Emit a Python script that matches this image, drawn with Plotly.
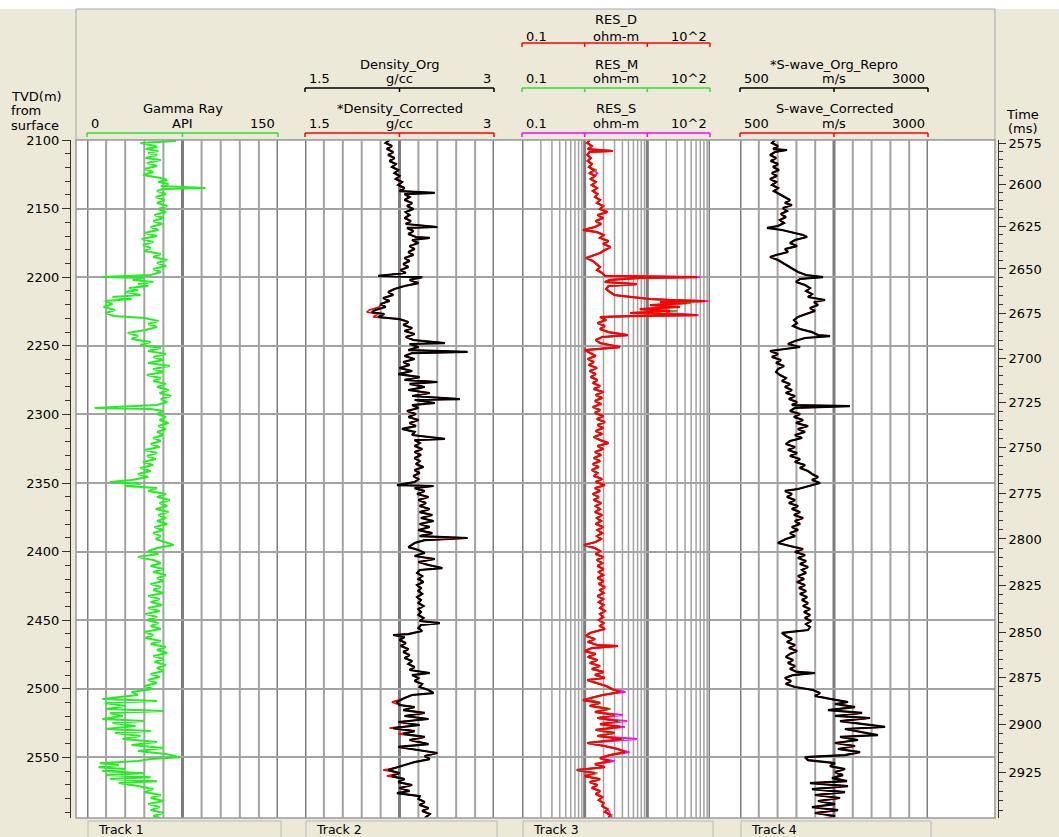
import numpy as np
import plotly.graph_objects as go

# ---------------------------------------------------------------- data
depth_ticks = [2100, 2150, 2200, 2250, 2300, 2350, 2400, 2450, 2500, 2550]

time_ms = [2575, 2600, 2625, 2650, 2675, 2700, 2725, 2750, 2775, 2800, 2825, 2850, 2875, 2900, 2925]
time_depth = [2102.2, 2132.1, 2162.7, 2194.0, 2226.1, 2258.9, 2291.0, 2323.8, 2357.3, 2390.8,
              2424.4, 2458.6, 2491.4, 2525.7, 2560.7]

gr_depth = [
    2100.0, 2100.7, 2102.2, 2103.6, 2105.1, 2106.6, 2108.0, 2109.5, 2110.9, 2113.1,
    2114.6, 2116.8, 2119.0, 2121.1, 2123.3, 2125.5, 2127.7, 2129.2, 2130.6, 2132.1,
    2133.5, 2135.0, 2135.7, 2137.2, 2139.4, 2141.5, 2143.7, 2145.9, 2148.1, 2150.3,
    2152.5, 2154.7, 2156.9, 2159.0, 2161.2, 2163.4, 2165.6, 2167.8, 2170.0, 2172.2,
    2174.3, 2176.5, 2178.7, 2180.9, 2183.1, 2185.3, 2187.5, 2189.7, 2191.8, 2194.0,
    2196.2, 2198.4, 2199.9, 2200.6, 2202.0, 2203.5, 2205.0, 2206.4, 2207.9, 2209.3,
    2210.8, 2213.0, 2214.4, 2215.9, 2217.4, 2219.5, 2221.7, 2223.9, 2226.1, 2228.3,
    2229.7, 2231.9, 2234.1, 2236.3, 2238.5, 2240.7, 2242.9, 2245.0, 2247.2, 2249.4,
    2251.6, 2253.8, 2256.0, 2258.2, 2260.4, 2262.5, 2264.7, 2266.9, 2269.1, 2271.3,
    2273.5, 2275.7, 2277.8, 2280.0, 2282.2, 2284.4, 2286.6, 2288.8, 2291.0, 2293.2,
    2295.3, 2296.0, 2297.5, 2299.7, 2301.9, 2304.1, 2306.3, 2308.5, 2310.6, 2312.8,
    2315.0, 2317.2, 2319.4, 2321.6, 2323.8, 2326.0, 2328.1, 2330.3, 2332.5, 2334.7,
    2336.9, 2339.1, 2341.3, 2343.4, 2345.6, 2347.8, 2349.3, 2350.7, 2352.2, 2353.7,
    2355.8, 2358.0, 2360.2, 2362.4, 2364.6, 2366.8, 2369.0, 2371.2, 2373.3, 2375.5,
    2377.7, 2379.9, 2382.1, 2384.3, 2386.5, 2388.7, 2390.8, 2393.0, 2395.2, 2397.4,
    2399.6, 2401.8, 2404.0, 2406.1, 2408.3, 2410.5, 2412.7, 2414.9, 2417.1, 2419.3,
    2421.5, 2423.6, 2425.8, 2428.0, 2430.2, 2432.4, 2434.6, 2436.8, 2438.9, 2441.1,
    2443.3, 2445.5, 2447.7, 2449.9, 2452.1, 2454.2, 2456.4, 2458.6, 2460.8, 2463.0,
    2465.2, 2467.4, 2469.5, 2471.7, 2473.9, 2476.1, 2478.3, 2480.5, 2482.7, 2484.8,
    2487.0, 2489.2, 2491.4, 2493.6, 2495.8, 2498.0, 2500.2, 2502.3, 2504.5, 2507.4,
    2508.9, 2510.3, 2512.5, 2514.7, 2516.2, 2517.6, 2519.8, 2522.0, 2523.5, 2524.9,
    2527.1, 2529.3, 2530.8, 2532.2, 2534.4, 2536.6, 2538.8, 2541.0, 2543.2, 2545.4,
    2547.6, 2549.8, 2551.2, 2552.7, 2554.2, 2555.6, 2557.1, 2558.5, 2560.0, 2561.5,
    2562.9, 2564.4, 2565.8, 2567.3, 2568.7, 2570.9, 2573.1, 2575.3, 2577.4, 2579.6,
    2581.8, 2584.0, 2586.2, 2588.4, 2590.5, 2592.7, 2594.2]
gr_api = [
    62, 70, 42, 50, 55, 46, 56, 48, 55, 46,
    58, 47, 55, 45, 52, 44, 58, 63, 56, 64,
    58, 93, 60, 55, 62, 54, 61, 55, 63, 56,
    62, 53, 60, 52, 59, 50, 56, 45, 55, 43,
    52, 44, 50, 45, 58, 52, 63, 55, 62, 52,
    58, 50, 12, 45, 36, 52, 40, 48, 33, 40,
    30, 42, 20, 35, 14, 20, 13, 22, 15, 21,
    45, 56, 48, 55, 46, 32, 40, 35, 50, 42,
    58, 48, 62, 52, 60, 48, 65, 52, 60, 47,
    58, 52, 62, 55, 64, 57, 66, 58, 63, 55,
    6, 50, 60, 55, 62, 57, 64, 56, 62, 55,
    60, 52, 58, 50, 57, 45, 55, 47, 54, 44,
    52, 42, 50, 40, 48, 35, 18, 42, 30, 55,
    48, 62, 55, 65, 57, 63, 54, 64, 56, 62,
    55, 63, 53, 60, 52, 58, 54, 62, 68, 55,
    48, 56, 40, 52, 58, 50, 60, 52, 62, 55,
    60, 50, 58, 52, 60, 48, 57, 50, 59, 48,
    57, 46, 55, 47, 56, 50, 58, 45, 52, 46,
    58, 50, 62, 55, 63, 52, 60, 53, 62, 55,
    60, 50, 57, 48, 55, 45, 52, 35, 40, 12,
    55, 14, 30, 15, 60, 18, 28, 12, 45, 20,
    38, 15, 50, 22, 42, 28, 55, 35, 60, 40,
    62, 73, 50, 40, 10, 25, 9, 30, 12, 45,
    15, 50, 18, 55, 25, 40, 52, 45, 58, 50,
    60, 48, 57, 50, 60, 52, 58]

den_depth = [
    2100.0, 2102.2, 2104.4, 2106.6, 2108.7, 2110.9, 2113.1, 2115.3, 2117.5, 2119.7,
    2121.9, 2124.1, 2126.2, 2128.4, 2130.6, 2132.8, 2135.0, 2137.2, 2138.6, 2139.4,
    2141.5, 2143.7, 2145.9, 2148.1, 2150.3, 2152.5, 2154.7, 2156.9, 2159.0, 2161.2,
    2163.4, 2164.1, 2166.3, 2168.5, 2170.7, 2171.4, 2172.9, 2175.1, 2177.3, 2179.5,
    2181.6, 2183.8, 2186.0, 2188.2, 2190.4, 2192.6, 2194.8, 2196.9, 2199.1, 2199.9,
    2202.0, 2204.3, 2206.4, 2208.6, 2210.8, 2213.0, 2215.2, 2217.4, 2219.5, 2221.7,
    2223.9, 2225.4, 2226.8, 2229.0, 2230.5, 2232.7, 2234.8, 2237.0, 2239.2, 2241.4,
    2243.6, 2245.8, 2248.0, 2248.7, 2250.9, 2253.1, 2254.5, 2255.3, 2257.4, 2259.6,
    2261.8, 2264.0, 2266.2, 2268.4, 2270.6, 2272.8, 2274.9, 2276.4, 2277.8, 2280.0,
    2282.2, 2284.4, 2286.6, 2288.8, 2289.5, 2291.7, 2293.2, 2295.3, 2297.5, 2299.7,
    2301.9, 2304.1, 2306.3, 2308.5, 2310.6, 2312.8, 2315.0, 2317.9, 2318.7, 2320.9,
    2323.0, 2325.2, 2327.4, 2329.6, 2331.8, 2334.0, 2336.2, 2338.3, 2340.5, 2342.7,
    2344.9, 2347.1, 2349.3, 2351.5, 2352.2, 2353.7, 2355.8, 2358.0, 2360.2, 2362.4,
    2364.6, 2366.8, 2369.0, 2371.2, 2373.3, 2375.5, 2377.7, 2379.9, 2382.1, 2384.3,
    2386.5, 2388.7, 2390.1, 2391.6, 2393.7, 2396.7, 2398.8, 2401.0, 2403.2, 2405.4,
    2407.6, 2409.8, 2412.0, 2413.4, 2415.6, 2417.8, 2420.0, 2422.2, 2424.4, 2426.6,
    2428.7, 2430.9, 2433.1, 2435.3, 2437.5, 2439.7, 2441.9, 2444.0, 2446.2, 2448.4,
    2450.6, 2452.1, 2453.5, 2455.7, 2457.9, 2460.1, 2460.8, 2462.3, 2464.4, 2466.6,
    2468.8, 2471.0, 2473.2, 2475.4, 2477.6, 2479.7, 2481.9, 2484.1, 2486.3, 2488.5,
    2490.0, 2492.2, 2494.3, 2496.5, 2498.7, 2500.9, 2503.1, 2504.5, 2506.7, 2509.6,
    2511.8, 2513.3, 2515.5, 2517.6, 2519.8, 2522.0, 2524.2, 2526.4, 2528.6, 2530.8,
    2532.9, 2535.1, 2537.3, 2540.3, 2542.4, 2544.6, 2546.8, 2549.0, 2551.2, 2553.4,
    2555.6, 2557.8, 2559.2, 2561.4, 2563.6, 2565.8, 2568.0, 2570.1, 2572.3, 2574.5,
    2576.0, 2578.2, 2580.3, 2582.5, 2584.7, 2586.9, 2589.1, 2591.3, 2594.2]
den_org = [
    2.17, 2.14, 2.19, 2.15, 2.20, 2.16, 2.21, 2.17, 2.22, 2.19,
    2.24, 2.21, 2.25, 2.22, 2.27, 2.24, 2.29, 2.25, 2.53, 2.29,
    2.33, 2.29, 2.35, 2.31, 2.36, 2.30, 2.33, 2.29, 2.34, 2.30,
    2.55, 2.31, 2.36, 2.32, 2.38, 2.49, 2.35, 2.40, 2.33, 2.37,
    2.32, 2.36, 2.29, 2.33, 2.28, 2.32, 2.26, 2.30, 2.08, 2.43,
    2.33, 2.40, 2.29, 2.21, 2.16, 2.20, 2.12, 2.17, 2.10, 2.14,
    2.06, 2.03, 2.13, 2.08, 2.25, 2.32, 2.28, 2.35, 2.29, 2.37,
    2.30, 2.36, 2.61, 2.33, 2.40, 2.32, 2.79, 2.35, 2.29, 2.37,
    2.28, 2.33, 2.25, 2.35, 2.24, 2.41, 2.29, 2.55, 2.33, 2.45,
    2.32, 2.49, 2.35, 2.73, 2.37, 2.53, 2.35, 2.40, 2.31, 2.38,
    2.32, 2.40, 2.33, 2.38, 2.27, 2.37, 2.35, 2.61, 2.37, 2.41,
    2.37, 2.43, 2.37, 2.42, 2.37, 2.41, 2.38, 2.44, 2.37, 2.41,
    2.36, 2.40, 2.37, 2.23, 2.52, 2.37, 2.45, 2.39, 2.48, 2.40,
    2.46, 2.41, 2.49, 2.41, 2.51, 2.42, 2.52, 2.41, 2.49, 2.40,
    2.51, 2.41, 2.79, 2.45, 2.37, 2.32, 2.40, 2.45, 2.37, 2.53,
    2.40, 2.48, 2.59, 2.41, 2.39, 2.43, 2.40, 2.44, 2.39, 2.42,
    2.40, 2.43, 2.39, 2.42, 2.40, 2.44, 2.40, 2.42, 2.40, 2.44,
    2.41, 2.57, 2.42, 2.40, 2.43, 2.32, 2.20, 2.29, 2.25, 2.30,
    2.26, 2.32, 2.28, 2.33, 2.29, 2.35, 2.32, 2.37, 2.33, 2.49,
    2.35, 2.40, 2.37, 2.43, 2.41, 2.48, 2.52, 2.35, 2.29, 2.23,
    2.25, 2.37, 2.28, 2.45, 2.29, 2.48, 2.24, 2.41, 2.20, 2.37,
    2.28, 2.45, 2.33, 2.48, 2.24, 2.41, 2.55, 2.45, 2.49, 2.37,
    2.29, 2.21, 2.16, 2.25, 2.19, 2.29, 2.24, 2.35, 2.25, 2.33,
    2.23, 2.41, 2.40, 2.45, 2.41, 2.48, 2.43, 2.49, 2.45]
# corrected density: same samples as Density_Org except where the red curve shows
den_corr_edits = {2221.7: 2.09, 2223.9: 2.01, 2225.4: 1.99, 2226.8: 2.08, 2229.0: 2.04,
                  2509.6: 2.19, 2528.6: 2.17, 2532.9: 2.24, 2559.2: 2.12, 2563.6: 2.15}

res_depth = [
    2100.0, 2102.2, 2104.4, 2106.6, 2108.0, 2108.7, 2110.9, 2113.1, 2115.3, 2117.5,
    2119.7, 2121.9, 2124.1, 2126.2, 2128.4, 2130.6, 2132.8, 2135.0, 2137.2, 2139.4,
    2141.5, 2143.7, 2145.9, 2148.1, 2150.3, 2152.5, 2154.7, 2156.9, 2159.0, 2161.2,
    2163.4, 2165.6, 2167.1, 2169.2, 2171.4, 2173.6, 2175.8, 2178.0, 2180.2, 2182.4,
    2184.5, 2186.0, 2188.2, 2190.4, 2192.6, 2194.8, 2196.9, 2199.1, 2199.9, 2200.6,
    2202.0, 2203.5, 2205.0, 2206.4, 2208.6, 2210.8, 2213.0, 2214.4, 2215.9, 2216.6,
    2217.4, 2218.1, 2218.8, 2220.3, 2221.7, 2223.2, 2224.6, 2226.1, 2227.6, 2228.3,
    2229.0, 2231.2, 2233.4, 2235.6, 2237.8, 2240.0, 2242.2, 2243.6, 2245.8, 2248.0,
    2250.9, 2253.1, 2255.3, 2257.4, 2259.6, 2261.8, 2264.0, 2266.2, 2268.4, 2270.6,
    2272.8, 2274.9, 2277.1, 2279.3, 2281.5, 2283.7, 2285.9, 2288.0, 2290.2, 2292.4,
    2294.6, 2296.8, 2299.0, 2301.2, 2303.4, 2305.6, 2307.7, 2309.9, 2312.1, 2314.3,
    2316.5, 2318.7, 2320.9, 2323.0, 2325.2, 2327.4, 2329.6, 2331.8, 2334.0, 2336.2,
    2338.3, 2340.5, 2342.7, 2344.9, 2347.1, 2349.3, 2351.5, 2353.7, 2355.8, 2358.0,
    2360.2, 2362.4, 2364.6, 2366.8, 2369.0, 2371.2, 2373.3, 2375.5, 2377.7, 2379.9,
    2382.1, 2384.3, 2386.5, 2388.7, 2390.8, 2393.0, 2395.2, 2397.4, 2399.6, 2401.8,
    2404.0, 2406.1, 2408.3, 2410.5, 2412.7, 2414.9, 2417.1, 2419.3, 2421.5, 2423.6,
    2425.8, 2428.0, 2430.2, 2432.4, 2434.6, 2436.8, 2438.9, 2441.1, 2443.3, 2445.5,
    2447.7, 2449.9, 2452.1, 2454.2, 2456.4, 2459.3, 2461.5, 2463.7, 2465.9, 2468.1,
    2468.8, 2470.3, 2472.5, 2474.6, 2476.8, 2479.0, 2481.2, 2483.4, 2485.6, 2487.7,
    2489.9, 2492.1, 2493.6, 2495.8, 2498.0, 2500.2, 2502.3, 2504.5, 2506.7, 2508.2,
    2510.3, 2512.5, 2514.7, 2516.9, 2519.1, 2521.3, 2523.5, 2525.7, 2527.8, 2530.0,
    2532.2, 2534.4, 2536.6, 2539.5, 2541.7, 2543.9, 2546.1, 2548.3, 2550.5, 2552.7,
    2554.9, 2557.1, 2559.2, 2561.4, 2563.6, 2565.8, 2568.0, 2570.1, 2572.3, 2574.5,
    2576.7, 2578.9, 2581.1, 2583.3, 2585.5, 2587.6, 2589.8, 2592.0, 2594.2]
res_deep = [
    1.20, 1.10, 1.30, 1.12, 2.80, 1.20, 1.10, 1.25, 1.12, 1.30,
    1.17, 1.40, 1.20, 1.46, 1.25, 1.50, 1.30, 1.57, 1.35, 1.60,
    1.46, 1.76, 1.57, 1.97, 1.76, 2.30, 1.60, 1.97, 1.50, 1.83,
    1.46, 0.94, 1.57, 2.00, 1.76, 2.40, 1.97, 2.60, 2.10, 1.76,
    1.30, 1.05, 1.35, 1.57, 1.76, 1.57, 1.90, 2.10, 62.0, 7.6,
    2.53, 2.10, 6.8, 2.40, 2.20, 2.53, 3.0, 5.3, 11.0, 23.0,
    83.0, 15.9, 43.0, 11.0, 33.0, 7.6, 23.0, 5.3, 62.0, 5.3,
    1.76, 2.20, 1.60, 2.10, 1.76, 2.40, 4.90, 1.90, 1.50, 1.76,
    3.66, 1.00, 1.20, 1.50, 1.12, 1.40, 1.17, 1.57, 1.20, 1.50,
    1.25, 1.60, 1.35, 1.76, 1.40, 1.97, 1.50, 1.90, 1.46, 1.83,
    1.35, 1.76, 1.46, 2.00, 1.57, 2.10, 1.60, 1.97, 1.50, 1.90,
    1.40, 1.76, 2.40, 1.60, 1.97, 1.46, 1.83, 1.40, 1.76, 1.35,
    1.68, 1.30, 1.60, 1.40, 1.90, 1.50, 2.10, 1.46, 1.76, 1.35,
    1.68, 1.40, 1.83, 1.50, 1.76, 1.46, 1.90, 1.57, 1.83, 1.50,
    1.97, 1.60, 1.90, 1.57, 1.83, 1.50, 0.97, 1.46, 1.76, 1.50,
    1.97, 1.57, 1.90, 1.60, 2.00, 1.68, 1.97, 1.60, 2.00, 1.68,
    2.10, 1.76, 2.00, 1.60, 1.97, 1.68, 2.00, 1.76, 2.10, 1.76,
    1.97, 1.68, 2.00, 1.76, 2.10, 1.21, 1.05, 1.46, 1.12, 1.60,
    3.40, 1.30, 1.00, 1.50, 1.12, 1.60, 1.21, 1.76, 1.30, 2.00,
    1.46, 2.10, 1.10, 1.60, 2.20, 2.70, 3.66, 1.97, 1.21, 0.94,
    1.76, 1.21, 2.40, 1.46, 3.00, 1.60, 3.40, 1.76, 3.66, 1.50,
    3.00, 1.60, 3.90, 1.10, 2.10, 3.40, 4.40, 2.53, 1.76, 2.53,
    1.46, 2.10, 0.75, 1.46, 1.00, 1.76, 1.21, 1.60, 1.30, 1.76,
    1.50, 1.90, 1.68, 2.00, 1.90, 2.30, 2.10, 2.53, 2.40]
# RES_M / RES_S follow RES_D except where they show beside it
res_med_edits = {2121.9: 1.55, 2218.8: 50.0, 2224.6: 30.0, 2500.2: 2.9, 2508.2: 1.3,
                 2514.7: 2.6, 2523.5: 3.7, 2536.6: 4.2, 2561.4: 1.6, 2592.0: 2.7}
res_shallow_edits = {2124.1: 1.6, 2199.9: 70.0, 2217.4: 95.0, 2226.1: 20.0, 2227.6: 66.0,
                     2502.3: 4.5, 2519.1: 4.0, 2523.5: 4.8, 2527.8: 4.4, 2536.6: 6.8,
                     2546.1: 5.2, 2552.7: 3.0, 2589.8: 2.5, 2594.2: 2.8}

vs_depth = [
    2100.0, 2102.2, 2104.4, 2106.6, 2107.3, 2108.7, 2110.9, 2113.1, 2115.3, 2117.5,
    2119.7, 2121.9, 2124.1, 2126.2, 2128.4, 2130.6, 2132.8, 2135.0, 2137.2, 2139.4,
    2141.5, 2143.7, 2145.9, 2147.4, 2149.6, 2151.8, 2153.9, 2156.1, 2158.3, 2160.5,
    2162.7, 2164.1, 2165.6, 2167.8, 2169.2, 2170.7, 2172.9, 2175.1, 2177.3, 2179.5,
    2181.6, 2183.8, 2185.3, 2187.5, 2189.7, 2191.8, 2194.0, 2196.2, 2198.4, 2199.9,
    2201.3, 2203.5, 2205.7, 2207.9, 2210.1, 2212.3, 2214.4, 2216.6, 2218.1, 2220.3,
    2222.5, 2224.6, 2226.8, 2229.0, 2231.2, 2233.4, 2235.6, 2237.8, 2240.0, 2242.2,
    2242.9, 2244.3, 2246.5, 2248.7, 2250.9, 2252.3, 2253.8, 2256.0, 2258.2, 2260.4,
    2262.5, 2264.7, 2266.9, 2269.1, 2271.3, 2273.5, 2275.7, 2277.8, 2280.0, 2282.2,
    2284.4, 2286.6, 2288.8, 2291.0, 2293.2, 2293.9, 2295.3, 2297.5, 2299.7, 2301.9,
    2304.1, 2306.3, 2308.5, 2310.6, 2312.8, 2315.0, 2317.2, 2319.4, 2321.6, 2323.8,
    2326.0, 2328.1, 2330.3, 2332.5, 2334.7, 2336.9, 2339.1, 2341.3, 2343.4, 2345.6,
    2347.8, 2350.0, 2352.2, 2354.4, 2355.8, 2358.0, 2360.2, 2362.4, 2364.6, 2366.8,
    2369.0, 2371.2, 2373.3, 2375.5, 2377.7, 2379.9, 2382.1, 2384.3, 2386.5, 2388.7,
    2390.8, 2393.7, 2395.9, 2398.1, 2400.3, 2402.5, 2404.7, 2406.8, 2409.0, 2411.2,
    2413.4, 2415.6, 2417.8, 2420.0, 2422.2, 2424.4, 2426.6, 2428.7, 2430.9, 2433.1,
    2435.3, 2437.5, 2439.7, 2441.9, 2444.0, 2446.2, 2448.4, 2450.6, 2452.8, 2455.0,
    2457.2, 2459.3, 2461.5, 2463.7, 2465.9, 2468.1, 2470.3, 2472.5, 2474.6, 2476.8,
    2479.0, 2481.2, 2483.4, 2485.6, 2487.7, 2488.5, 2490.0, 2492.2, 2494.3, 2496.5,
    2498.7, 2500.9, 2503.1, 2505.2, 2507.4, 2509.6, 2511.1, 2513.3, 2515.5, 2517.6,
    2519.8, 2521.3, 2523.5, 2525.7, 2527.8, 2529.3, 2531.5, 2533.7, 2535.1, 2537.3,
    2539.5, 2541.7, 2543.9, 2546.1, 2548.3, 2549.8, 2552.0, 2554.2, 2556.4, 2558.5,
    2560.7, 2562.9, 2565.1, 2567.3, 2568.7, 2570.9, 2573.1, 2575.3, 2577.4, 2579.6,
    2581.8, 2584.0, 2586.2, 2588.4, 2590.5, 2592.7, 2594.2]
vs_org = [
    965, 925, 1005, 940, 1125, 965, 900, 980, 910, 1005,
    940, 1018, 925, 990, 900, 980, 925, 1005, 950, 1030,
    1085, 1165, 1098, 1190, 1072, 1125, 1045, 1110, 1032, 1085,
    1005, 860, 1058, 1231, 1338, 1391, 1231, 1165, 1258, 1098,
    1138, 980, 900, 1005, 1072, 1138, 1190, 1271, 1378, 1604,
    1298, 1245, 1364, 1431, 1378, 1458, 1404, 1630, 1484, 1537,
    1431, 1497, 1378, 1271, 1218, 1258, 1205, 1298, 1458, 1537,
    1697, 1364, 1231, 1138, 1298, 1098, 900, 1005, 925, 1045,
    980, 1085, 1005, 980, 1032, 1110, 1058, 1165, 1098, 1190,
    1110, 1231, 1151, 1258, 1190, 1963, 1231, 1165, 1298, 1218,
    1338, 1245, 1404, 1271, 1364, 1231, 1324, 1165, 1110, 1231,
    1138, 1258, 1165, 1298, 1231, 1364, 1298, 1404, 1458, 1537,
    1458, 1564, 1431, 1271, 1098, 1190, 1125, 1231, 1151, 1271,
    1190, 1298, 1218, 1338, 1231, 1298, 1190, 1271, 1165, 1231,
    1110, 1005, 1165, 1338, 1231, 1364, 1271, 1378, 1298, 1404,
    1324, 1378, 1271, 1351, 1258, 1364, 1285, 1378, 1298, 1391,
    1324, 1404, 1338, 1431, 1351, 1431, 1364, 1444, 1378, 1431,
    1404, 1058, 1110, 1190, 1125, 1231, 1151, 1258, 1165, 1110,
    1205, 1138, 1231, 1165, 1258, 1497, 1205, 1098, 1178, 1110,
    1231, 1471, 1564, 1497, 1697, 1936, 1763, 2029, 1670, 2123,
    1763, 2229, 1830, 2163, 2429, 1896, 2096, 2335, 1830, 2069,
    1763, 2029, 1803, 2096, 1896, 1364, 1404, 1763, 1697, 1896,
    1763, 1870, 1723, 1923, 1431, 1936, 1458, 1896, 1497, 1830,
    1537, 1763, 1458, 1803, 1497, 1763, 1630]
vs_corr_edits = {2511.1: 1820, 2525.7: 2120, 2533.7: 2290, 2562.9: 1820, 2565.1: 1770}

# ---------------------------------------------------------------- layout helpers
FONT = "DejaVu Sans"
BEIGE = "#ECE9D8"
GREEN = "#22ee22"
GREEN_HDR = "#33dd33"
GREEN_M = "#22bb22"
RED = "#ff0000"
MAGENTA = "#ff00ff"
BLACK = "#000000"

W, H = 1059, 837
ML, MR, MT, MB = 70, 61, 140, 19
PW, PH = W - ML - MR, H - MT - MB
Y_TOP = 2100.0
Y_BOT = 2100.0 + PH / 1.372


def fx(px):
    return (px - ML) / PW


def fy(py):
    return (H - MB - py) / PH


TRACKS = [
    dict(ax="x2", l=87, r=278, log=False, lo=0, hi=150),
    dict(ax="x3", l=305, r=494, log=False, lo=1.5, hi=3.0),
    dict(ax="x4", l=522, r=710, log=True, lo=0.1, hi=100.0),
    dict(ax="x5", l=740, r=928, log=False, lo=500, hi=3000),
]

den_corr = [den_corr_edits.get(d, v) for d, v in zip(den_depth, den_org)]
res_med = [res_med_edits.get(d, v) for d, v in zip(res_depth, res_deep)]
res_shallow = [res_shallow_edits.get(d, v) for d, v in zip(res_depth, res_deep)]
vs_corr = [vs_corr_edits.get(d, v) for d, v in zip(vs_depth, vs_org)]

fig = go.Figure()
# carrier traces for the base subplot and time axis
fig.add_trace(go.Scatter(x=[0.5], y=[2300], xaxis="x", yaxis="y", mode="markers",
                         marker=dict(size=1, color="rgba(0,0,0,0)"), hoverinfo="skip"))
fig.add_trace(go.Scatter(x=[0.5], y=[2300], xaxis="x", yaxis="y2", mode="markers",
                         marker=dict(size=1, color="rgba(0,0,0,0)"), hoverinfo="skip"))


def curve(x, y, ax, color, w=2.0):
    fig.add_trace(go.Scatter(x=x, y=y, xaxis=ax, yaxis="y", mode="lines",
                             line=dict(color=color, width=w, shape="linear"),
                             hoverinfo="skip"))


curve(gr_api, gr_depth, "x2", GREEN, 2.0)
curve(den_corr, den_depth, "x3", RED, 1.6)
curve(den_org, den_depth, "x3", BLACK, 2.2)
curve(res_shallow, res_depth, "x4", MAGENTA, 1.8)
curve(res_med, res_depth, "x4", GREEN_M, 1.8)
curve(res_deep, res_depth, "x4", RED, 2.2)
curve(vs_corr, vs_depth, "x5", RED, 1.6)
curve(vs_org, vs_depth, "x5", BLACK, 2.2)

# minor ticks of the time axis (every 5 ms)
t_minor = np.arange(2575, 2960, 5)
slope = (time_depth[-1] - time_depth[-2]) / (time_ms[-1] - time_ms[-2])
d_minor = []
for t in t_minor:
    if t in time_ms:
        continue
    if t <= time_ms[-1]:
        d = float(np.interp(t, time_ms, time_depth))
    else:
        d = time_depth[-1] + (t - time_ms[-1]) * slope
    if d < Y_BOT - 0.5:
        d_minor.append(d)

tickfont = dict(family=FONT, size=13, color="#000")
layout = dict(
    width=W, height=H, margin=dict(l=ML, r=MR, t=MT, b=MB, pad=0),
    paper_bgcolor=BEIGE, plot_bgcolor="rgba(0,0,0,0)", showlegend=False,
    xaxis=dict(domain=[fx(76), fx(995)], range=[0, 1], visible=False, anchor="y",
               fixedrange=True),
    yaxis=dict(range=[Y_BOT, Y_TOP], autorange=False, anchor="free", position=0,
               tickmode="array", tickvals=depth_ticks, ticks="outside", ticklen=8,
               tickwidth=1, tickcolor="#333", showline=True, linecolor="#333",
               linewidth=1, showgrid=True, gridcolor="#a3a3a3", gridwidth=2,
               zeroline=False, tickfont=tickfont, fixedrange=True,
               minor=dict(dtick=10, tick0=2100, ticks="outside", ticklen=5,
                          tickcolor="#333", tickwidth=1, showgrid=False)),
    yaxis2=dict(range=[Y_BOT, Y_TOP], autorange=False, overlaying="y", side="right",
                anchor="free", position=1, tickmode="array", tickvals=time_depth,
                ticktext=[str(t) for t in time_ms], ticks="outside", ticklen=7,
                tickwidth=1, tickcolor="#333", showline=True, linecolor="#333",
                linewidth=1, showgrid=False, zeroline=False, tickfont=tickfont,
                fixedrange=True,
                minor=dict(tickmode="array", tickvals=d_minor, ticks="outside",
                           ticklen=4, tickcolor="#333", tickwidth=1, showgrid=False)),
)
for t in TRACKS:
    name = "xaxis" + t["ax"][1:]
    if t["log"]:
        layout[name] = dict(domain=[fx(t["l"]), fx(t["r"])], type="log",
                            range=[np.log10(t["lo"]), np.log10(t["hi"])],
                            visible=False, anchor="y", fixedrange=True)
    else:
        layout[name] = dict(domain=[fx(t["l"]), fx(t["r"])], type="linear",
                            range=[t["lo"], t["hi"]], visible=False, anchor="y",
                            fixedrange=True)

shapes = []
# white strip at the very top
shapes.append(dict(type="rect", xref="paper", yref="paper", x0=fx(0), x1=fx(W),
                   y0=fy(9), y1=fy(-2), fillcolor="white", line=dict(width=0),
                   layer="below"))
# header frame
shapes.append(dict(type="rect", xref="paper", yref="paper", x0=fx(76), x1=fx(995),
                   y0=fy(140), y1=fy(9), fillcolor=BEIGE,
                   line=dict(color="#a8a8a8", width=1), layer="below"))
# white log area
shapes.append(dict(type="rect", xref="paper", yref="paper", x0=fx(76), x1=fx(995),
                   y0=0, y1=1, fillcolor="white", line=dict(width=0), layer="below"))
# vertical grid lines of each track
for t in TRACKS:
    if t["log"]:
        for dec in [0.1, 1, 10]:
            for k in range(2, 10):
                shapes.append(dict(type="line", xref=t["ax"], yref="paper",
                                   x0=dec * k, x1=dec * k, y0=0, y1=1,
                                   line=dict(color="#a3a3a3", width=1.5), layer="below"))
        for v in [0.1, 1, 10, 100]:
            shapes.append(dict(type="line", xref=t["ax"], yref="paper", x0=v, x1=v,
                               y0=0, y1=1, line=dict(color="#7d7d7d", width=3),
                               layer="below"))
    else:
        for i in range(11):
            v = t["lo"] + (t["hi"] - t["lo"]) * i / 10
            thick = i in (0, 5, 10)
            shapes.append(dict(type="line", xref=t["ax"], yref="paper", x0=v, x1=v,
                               y0=0, y1=1,
                               line=dict(color="#7d7d7d" if thick else "#a3a3a3",
                                         width=3 if thick else 2), layer="below"))
# border of the log area
shapes.append(dict(type="rect", xref="paper", yref="paper", x0=fx(76), x1=fx(995),
                   y0=0, y1=1, line=dict(color="#9a9a9a", width=1.5), layer="above"))

annotations = []


def text(s, px, py, xanchor="center", size=13):
    annotations.append(dict(text=s, x=fx(px), y=fy(py), xref="paper", yref="paper",
                            xanchor=xanchor, yanchor="middle", showarrow=False,
                            font=dict(family=FONT, size=size, color="#000")))


ROWS = {1: (20, 36, 43), 2: (65, 79, 88), 3: (109, 124, 133)}
HEADERS = [
    (0, 3, "Gamma Ray", "0", "API", "150", GREEN_HDR),
    (1, 2, "Density_Org", "1.5", "g/cc", "3", BLACK),
    (1, 3, "*Density_Corrected", "1.5", "g/cc", "3", RED),
    (2, 1, "RES_D", "0.1", "ohm-m", "10^2", RED),
    (2, 2, "RES_M", "0.1", "ohm-m", "10^2", GREEN_HDR),
    (2, 3, "RES_S", "0.1", "ohm-m", "10^2", MAGENTA),
    (3, 2, "*S-wave_Org_Repro", "500", "m/s", "3000", BLACK),
    (3, 3, "S-wave_Corrected", "500", "m/s", "3000", RED),
]
for ti, row, name, lo, unit, hi, col in HEADERS:
    t = TRACKS[ti]
    l, r = t["l"], t["r"]
    c = (l + r) / 2
    yn, yv, yl = ROWS[row]
    text(name, c, yn)
    text(lo, l + 2, yv, "left")
    text(unit, c, yv)
    text(hi, r - 1, yv, "right")
    shapes.append(dict(type="line", xref="paper", yref="paper", x0=fx(l), x1=fx(r),
                       y0=fy(yl), y1=fy(yl), line=dict(color=col, width=1.5)))
    if t["log"]:
        tick_px = [l, l + (r - l) / 3, l + 2 * (r - l) / 3, r]
    else:
        tick_px = [l, c, r]
    for p in tick_px:
        shapes.append(dict(type="line", xref="paper", yref="paper", x0=fx(p), x1=fx(p),
                           y0=fy(yl), y1=fy(yl + 4), line=dict(color=col, width=1.5)))

text("TVD(m)", 9, 97, "left")
text("from", 9, 111, "left")
text("surface", 9, 125, "left")
text("Time", 1023, 114)
text("(ms)", 1023, 129)

# track name boxes at the bottom
for i, t in enumerate(TRACKS):
    shapes.append(dict(type="rect", xref="paper", yref="paper", x0=fx(t["l"] + 1),
                       x1=fx(t["r"] + 3), y0=fy(845), y1=fy(821), fillcolor=BEIGE,
                       line=dict(color="#b8b8b8", width=1)))
    text("Track %d" % (i + 1), t["l"] + 9, 829, "left", 12.5)

layout["shapes"] = shapes
layout["annotations"] = annotations
fig.update_layout(**layout)
fig.write_html("out.html",
               config={"displayModeBar": False, "staticPlot": True},
               post_script="document.body.style.margin='0px';"
                           "document.body.style.overflow='hidden';")
